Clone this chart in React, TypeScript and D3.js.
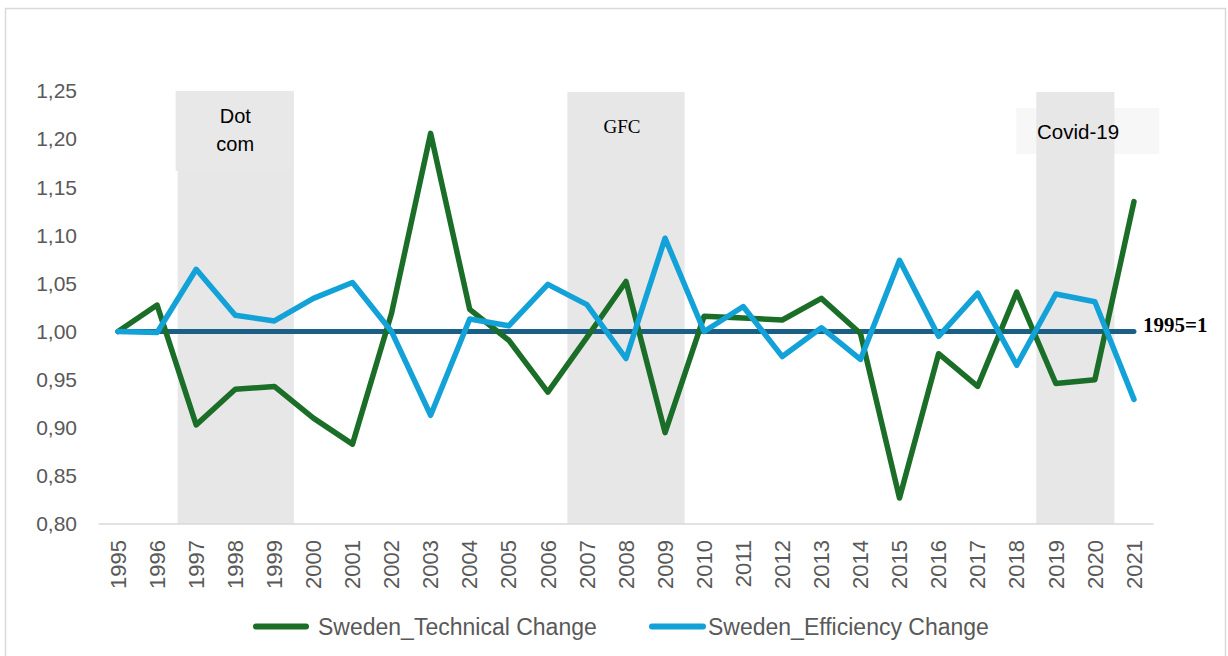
import React from "react";
import * as d3 from "d3";

const years = ["1995","1996","1997","1998","1999","2000","2001","2002","2003","2004","2005","2006","2007","2008","2009","2010","2011","2012","2013","2014","2015","2016","2017","2018","2019","2020","2021"];
const technicalChange = [1.0, 1.0275, 0.903, 0.94, 0.943, 0.91, 0.883, 1.019, 1.206, 1.023, 0.991, 0.937, 0.994, 1.052, 0.895, 1.016, 1.014, 1.012, 1.0345, 0.998, 0.827, 0.977, 0.943, 1.041, 0.946, 0.95, 1.135];
const efficiencyChange = [1.0, 0.999, 1.0647, 1.017, 1.011, 1.0345, 1.051, 1.0, 0.913, 1.013, 1.006, 1.049, 1.028, 0.972, 1.097, 1.0, 1.026, 0.974, 1.004, 0.971, 1.074, 0.995, 1.04, 0.965, 1.039, 1.031, 0.9295];
const yTicks = [0.8, 0.85, 0.9, 0.95, 1.0, 1.05, 1.1, 1.15, 1.2, 1.25];
const periods = [
  { label: ["Dot", "com"], from: "1997", to: "1999" },
  { label: ["GFC"], from: "2007", to: "2009" },
  { label: ["Covid-19"], from: "2019", to: "2020" },
];
const seriesNames = ["Sweden_Technical Change", "Sweden_Efficiency Change"];

const W = 1228, H = 656;
const left = 98.5, right = 1153.5, top = 91, bottom = 524;
const GREEN = "#1b6e27", BLUE = "#12a2d8", BASE = "#1b5f86";

export default function App() {
  const x = d3.scaleBand().domain(years).range([left, right]);
  const cx = (yr: string) => (x(yr) as number) + x.bandwidth() / 2;
  const y = d3.scaleLinear().domain([0.8, 1.25]).range([bottom, top]);
  const line = d3.line<number>().x((_, i) => cx(years[i])).y((v) => y(v));
  const sans = "'Liberation Sans', Arial, sans-serif";
  const serif = "'Liberation Serif', 'Times New Roman', serif";

  const dot = periods[0], gfc = periods[1], cov = periods[2];
  const band = (p: typeof dot) => ({ x0: x(p.from) as number, x1: (x(p.to) as number) + x.bandwidth() });
  const bd = band(dot), bg = band(gfc), bc = band(cov);

  return (
    <div style={{ position: "absolute", left: 0, top: 0 }}>
      <svg width={W} height={H} style={{ display: "block" }}>
        <rect x={0} y={0} width={W} height={H} fill="#fff" />
        <rect x={5.5} y={8.5} width={1220} height={660} fill="none" stroke="#d9d9d9" strokeWidth={1.5} />
        {/* Covid label box (behind band) */}
        <rect x={bc.x0 - 20} y={108} width={143} height={46} fill="#f7f7f7" />
        {/* shaded periods */}
        <rect x={bd.x0 + 1} y={y(1.25)} width={bd.x1 - bd.x0 - 1} height={bottom - y(1.25)} fill="#e7e7e7" />
        <rect x={bd.x0 - 1} y={y(1.25)} width={bd.x1 - bd.x0 + 1} height={80} fill="#e8e8e8" />
        <rect x={bg.x0} y={y(1.25) + 1} width={bg.x1 - bg.x0} height={bottom - y(1.25) - 1} fill="#e7e7e7" />
        <rect x={bc.x0} y={y(1.25) + 1} width={bc.x1 - bc.x0} height={bottom - y(1.25) - 1} fill="#e7e7e7" />
        {/* x axis line */}
        <line x1={left} x2={right} y1={bottom} y2={bottom} stroke="#d9d9d9" strokeWidth={1.5} />
        {/* y ticks */}
        {yTicks.map((t) => (
          <text key={t} x={77} y={y(t)} dy="0.35em" textAnchor="end" fontFamily={sans} fontSize={21} fill="#595959">
            {d3.format(".2f")(t).replace(".", ",")}
          </text>
        ))}
        {/* x ticks */}
        {years.map((yr) => (
          <text key={yr} transform={`translate(${cx(yr)},540) rotate(-90)`} dy="0.35em" textAnchor="end" fontFamily={sans} fontSize={22} fill="#595959">
            {yr}
          </text>
        ))}
        {/* period labels */}
        <text x={(bd.x0 + bd.x1) / 2} y={122.5} textAnchor="middle" fontFamily={sans} fontSize={20} fill="#000">{dot.label[0]}</text>
        <text x={(bd.x0 + bd.x1) / 2} y={150.5} textAnchor="middle" fontFamily={sans} fontSize={20} fill="#000">{dot.label[1]}</text>
        <text x={622} y={133} textAnchor="middle" fontFamily={serif} fontSize={19} fill="#000">{gfc.label[0]}</text>
        <text x={1037} y={138.5} textAnchor="start" fontFamily={sans} fontSize={20.5} fill="#000">{cov.label[0]}</text>
        {/* baseline 1995=1 */}
        <line x1={cx(years[0])} x2={cx(years[years.length - 1])} y1={y(1)} y2={y(1)} stroke={BASE} strokeWidth={5} strokeLinecap="round" />
        <text x={1143} y={332} fontFamily={serif} fontWeight="bold" fontSize={21} fill="#000">1995=1</text>
        {/* series */}
        <path d={line(technicalChange) as string} fill="none" stroke={GREEN} strokeWidth={5.5} strokeLinejoin="round" strokeLinecap="round" />
        <path d={line(efficiencyChange) as string} fill="none" stroke={BLUE} strokeWidth={5.5} strokeLinejoin="round" strokeLinecap="round" />
        {/* legend */}
        <line x1={256} x2={306} y1={626.5} y2={626.5} stroke={GREEN} strokeWidth={6} strokeLinecap="round" />
        <text x={318} y={626.5} dy="0.35em" fontFamily={sans} fontSize={23} fill="#595959">{seriesNames[0]}</text>
        <line x1={652} x2={703} y1={626.5} y2={626.5} stroke={BLUE} strokeWidth={6} strokeLinecap="round" />
        <text x={708} y={626.5} dy="0.35em" fontFamily={sans} fontSize={23} fill="#595959">{seriesNames[1]}</text>
      </svg>
    </div>
  );
}
